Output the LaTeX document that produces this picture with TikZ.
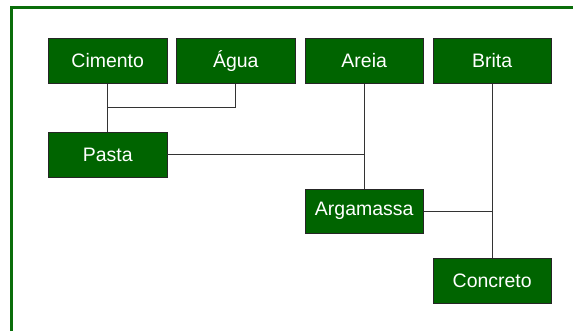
\documentclass[tikz,border=0pt]{standalone}
\usepackage{fontspec}
\setmainfont{Liberation Sans}
\definecolor{folha}{RGB}{0,100,0}
\definecolor{moldura}{RGB}{10,110,10}

\begin{document}
\begin{tikzpicture}[x=0.75pt,y=0.75pt,
	material/.style={draw=black!85, fill=folha, text=white, minimum width=89pt, minimum height=33.5pt, inner sep=0pt, font=\fontsize{14.6}{17}\selectfont},
	liga/.style={draw=black!80, line width=0.7pt}]
		\useasboundingbox (0,0) rectangle (573,331);
		\draw[moldura, line width=2pt] (11.5,0) -- (11.5,323.5) -- (573,323.5);
		% primeira linha
		\node[material] (cimento) at (107.7,270) {Cimento};
		\node[material] (agua) at (235.8,270) {Água};
		\node[material] (areia) at (364.2,270) {Areia};
		\node[material] (brita) at (492.2,270) {Brita};
		% misturas
		\node[material] (pasta) at (107.7,176.3) {Pasta};
		\node[material] (argamassa) at (364.2,119.7) {Argamassa};
		\node[material] (concreto) at (492.2,50.3) {Concreto};
		\coordinate (j1) at (107.7,223.3);
		\coordinate (j2) at (364.2,176.3);
		\coordinate (j3) at (492.2,119.7);
		\draw[liga] (cimento.south) -- (j1) -- (pasta.north);
		\draw[liga] (agua.south) |- (j1);
		\draw[liga] (areia.south) -- (j2) -- (argamassa.north);
		\draw[liga] (pasta.east) -- (j2);
		\draw[liga] (brita.south) -- (j3) -- (concreto.north);
		\draw[liga] (argamassa.east) -- (j3);
	\end{tikzpicture}
\end{document}
